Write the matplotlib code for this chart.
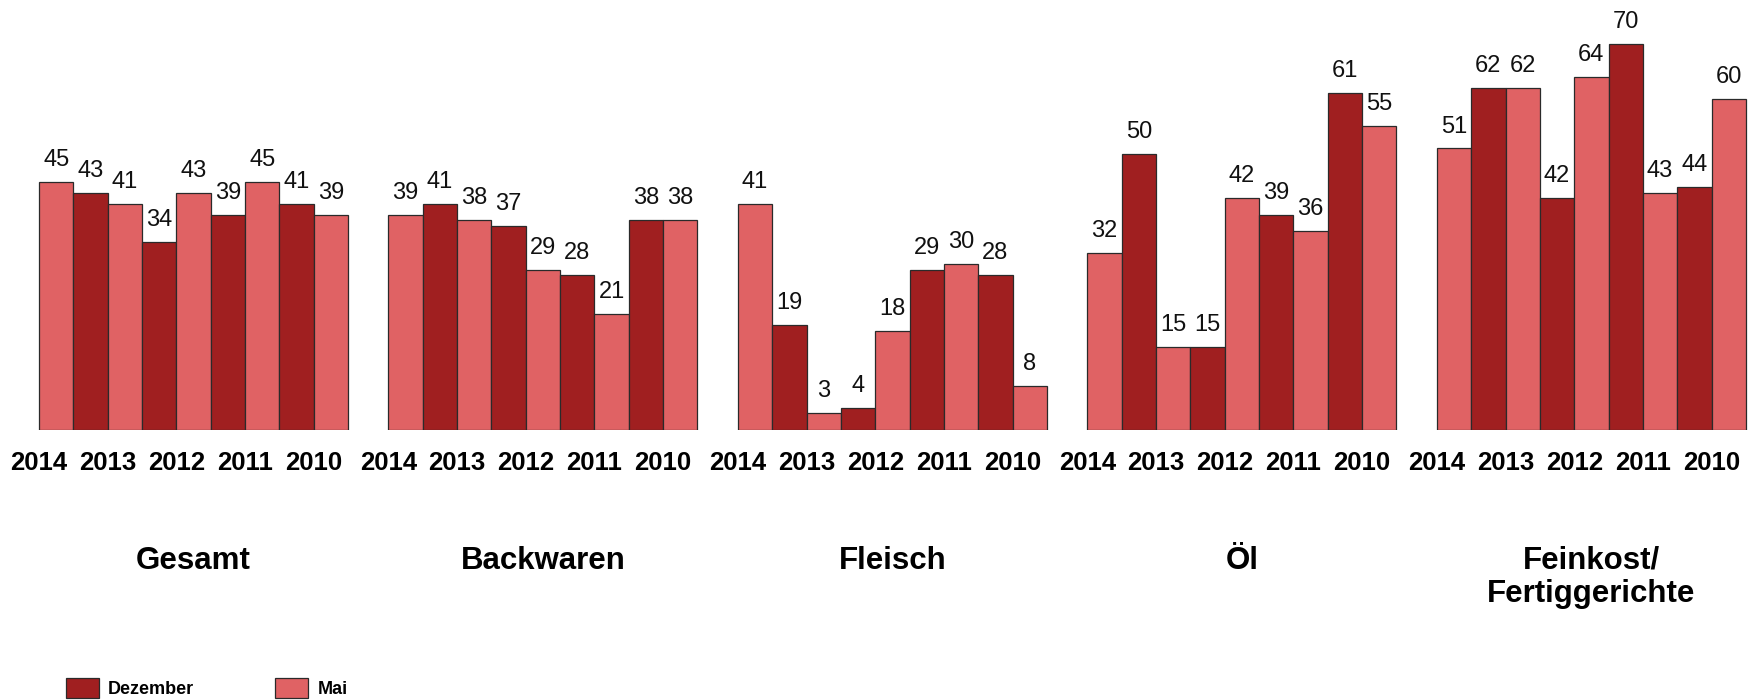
import numpy as np
import matplotlib
matplotlib.use('Agg')
import matplotlib.pyplot as plt
from matplotlib.patches import Patch

plt.rcParams['font.family'] = ['Liberation Sans', 'DejaVu Sans']

categories = ['Gesamt', 'Backwaren', 'Fleisch', 'Öl', 'Feinkost/\nFertiggerichte']
years = ['2014', '2013', '2012', '2011', '2010']

# bar order in each group: Mai 2014, Dez 2013, Mai 2013, Dez 2012, ... , Mai 2010
gesamt = [45, 43, 41, 34, 43, 39, 45, 41, 39]
backwaren = [39, 41, 38, 37, 29, 28, 21, 38, 38]
fleisch = [41, 19, 3, 4, 18, 29, 30, 28, 8]
oel = [32, 50, 15, 15, 42, 39, 36, 61, 55]
feinkost = [51, 62, 62, 42, 64, 70, 43, 44, 60]
groups = [gesamt, backwaren, fleisch, oel, feinkost]

col_mai = '#E06264'
col_dez = '#A01F20'
edge = '#2a2a2a'

fig = plt.figure(figsize=(17.55, 7.0), dpi=100)
# baseline at 430px from top, 5.52 px per unit
ax = fig.add_axes([0, 270 / 700, 1, 430 / 700])
px_per_unit_x = 34.33
stride = 10.18
ax.set_xlim(-0.5 - 39 / px_per_unit_x, -0.5 + (1755 - 39) / px_per_unit_x)
ax.set_ylim(0, 430 / 5.52)
ax.axis('off')

idx = np.arange(9)
colors = [col_mai if i % 2 == 0 else col_dez for i in idx]
for g, vals in enumerate(groups):
    x = g * stride + idx
    ax.bar(x, vals, width=1.0, color=colors, edgecolor=edge, linewidth=0.9)
    for xi, v in zip(x, vals):
        ax.annotate(str(v), (xi, v), xytext=(0, 11.5), textcoords='offset points',
                    ha='center', va='baseline', fontsize=17, color='#111111')
    for k, yr in enumerate(years):
        ax.text(g * stride - 0.5 + 2 * k, -7.2, yr, ha='center', va='baseline',
                fontsize=18.5, fontweight='bold', clip_on=False)
    ax.text(g * stride + 4, -21.0, categories[g], ha='center', va='top',
            fontsize=22.5, fontweight='bold', linespacing=1.15, clip_on=False)

handles = [Patch(facecolor=col_dez, edgecolor=edge, linewidth=0.9),
           Patch(facecolor=col_mai, edgecolor=edge, linewidth=0.9)]
fig.legend(handles, ['Dezember', 'Mai'], loc='upper left',
           bbox_to_anchor=(66 / 1755, 22 / 700), ncol=2, frameon=False,
           prop={'size': 13, 'weight': 'bold'}, handlelength=1.83, handleheight=1.3,
           handletextpad=0.5, columnspacing=4.5, borderpad=0, borderaxespad=0)

fig.savefig('out.png', dpi=100)
